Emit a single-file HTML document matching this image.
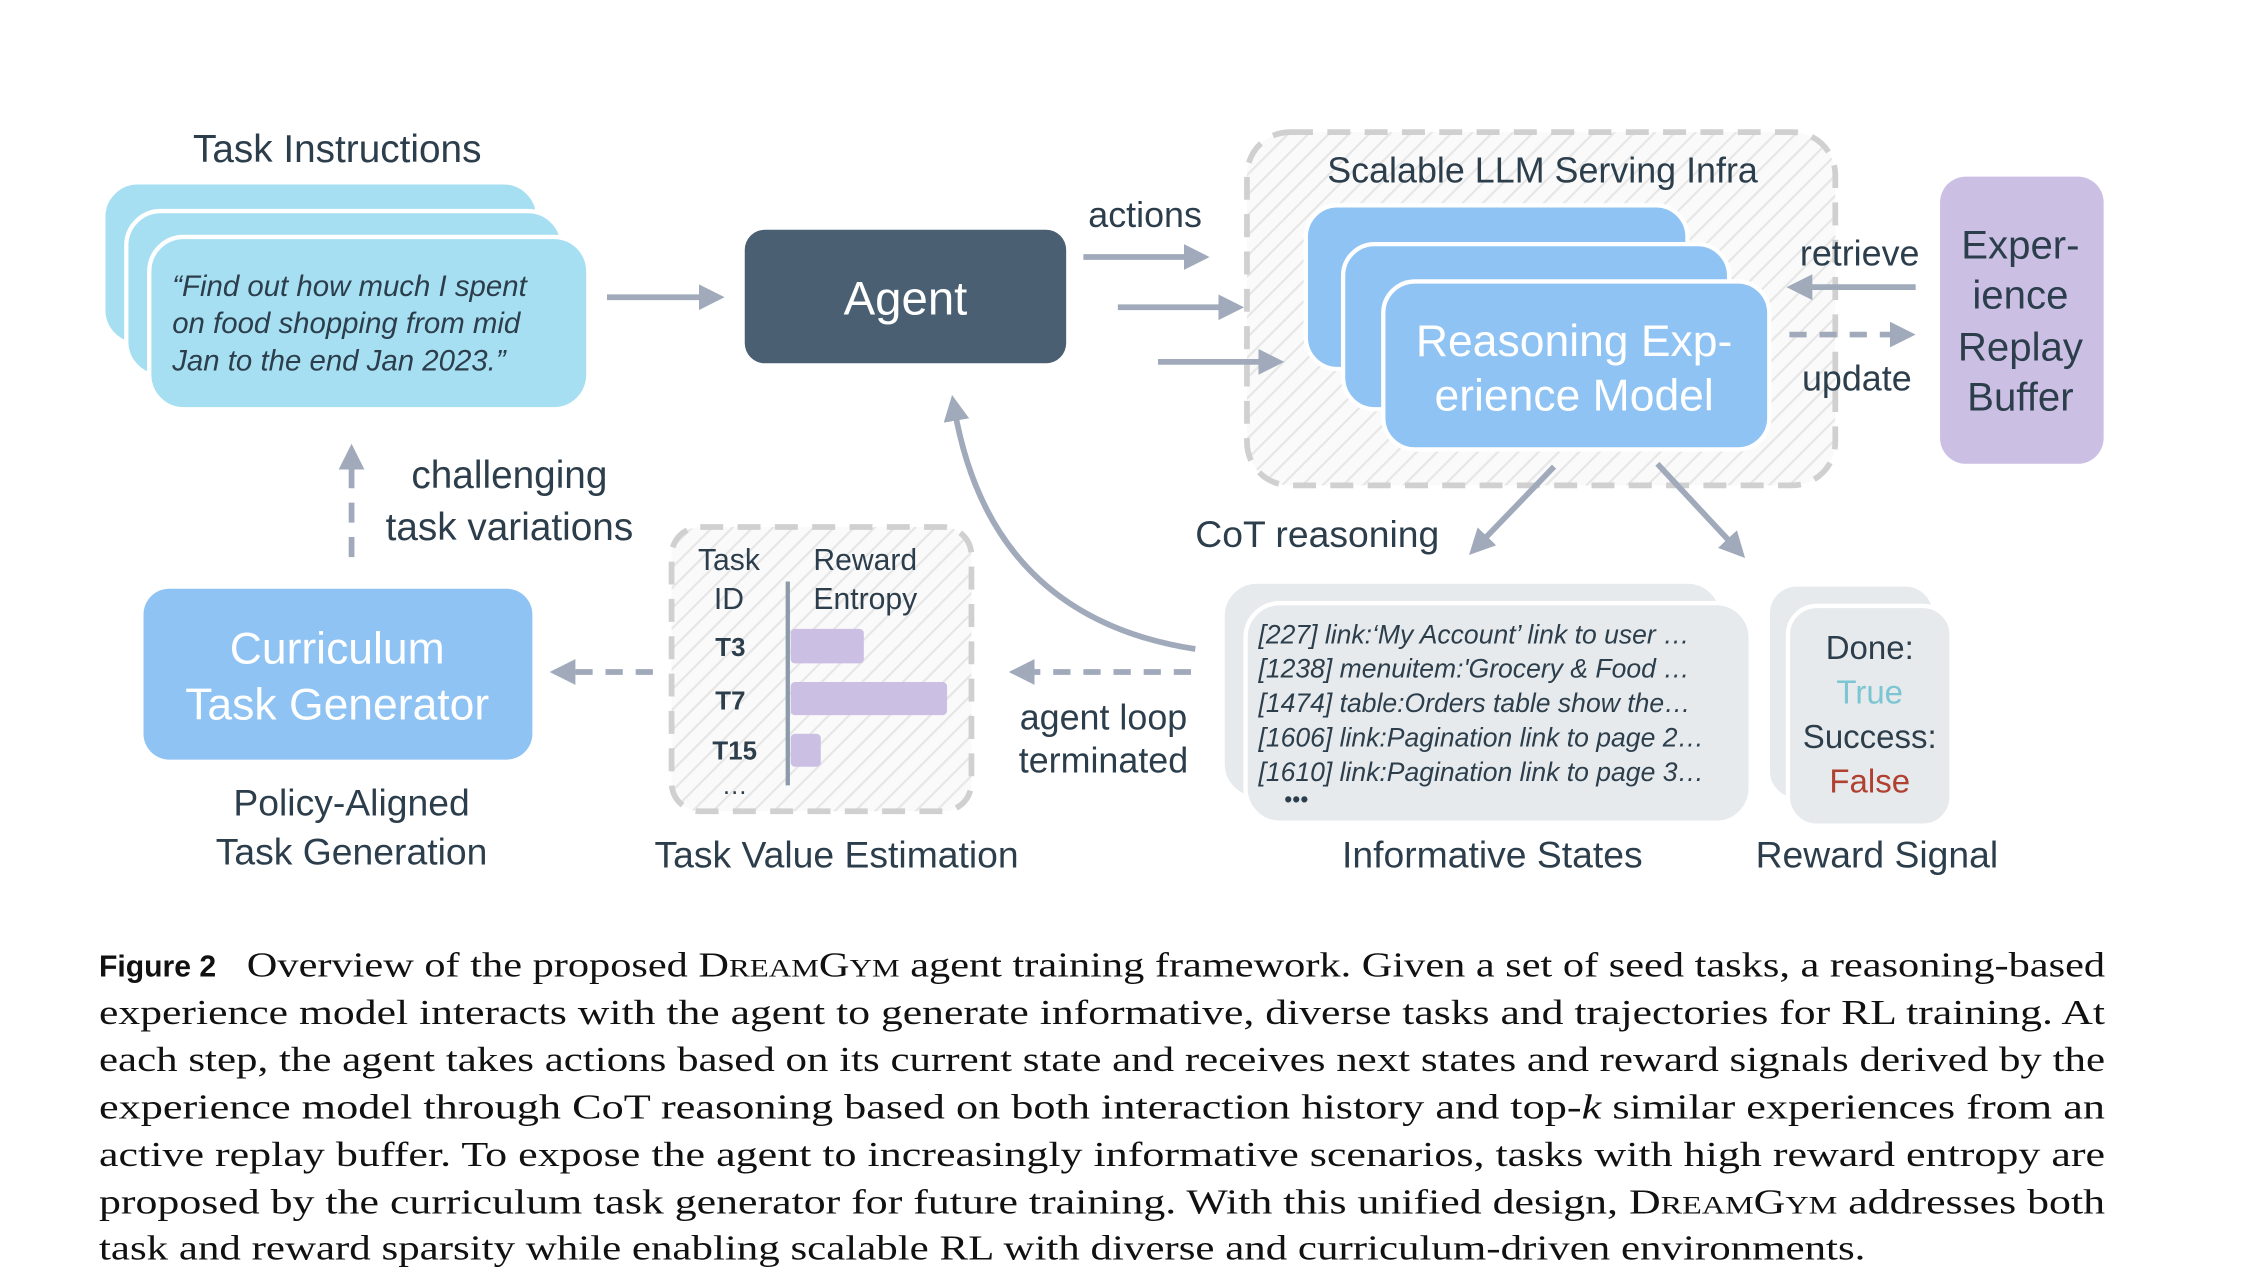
<!DOCTYPE html>
<html><head><meta charset="utf-8"><style>
html,body{margin:0;padding:0;background:#fff;}
svg{display:block;}
.t{font-family:"Liberation Sans",sans-serif;fill:#2c3e4c;}
.c{font-family:"Liberation Serif",serif;fill:#111;font-size:24.5px;}
</style></head><body>
<svg width="2250" height="1288" viewBox="0 0 1568 897" preserveAspectRatio="none" xmlns="http://www.w3.org/2000/svg">
<defs>
<pattern id="h" width="10" height="10" patternUnits="userSpaceOnUse" patternTransform="rotate(45)">
<rect width="10" height="10" fill="#fafafa"/><line x1="0" y1="0" x2="0" y2="10" stroke="#e6e6e6" stroke-width="3"/>
</pattern>
<marker id="a" viewBox="0 0 10 10" refX="5" refY="5" markerWidth="4.5" markerHeight="4.5" orient="auto" markerUnits="strokeWidth">
<path d="M0,0 L10,5 L0,10 z" fill="#a0aabb"/></marker>
</defs>

<text class="t" x="235" y="113" font-size="27" text-anchor="middle">Task Instructions</text>
<rect x="72" y="127" width="303" height="113" rx="24" fill="#a6dff2" stroke="#fff" stroke-width="3"/>
<rect x="88" y="147" width="304" height="115" rx="24" fill="#a6dff2" stroke="#fff" stroke-width="3"/>
<rect x="104" y="165" width="306" height="120" rx="24" fill="#a6dff2" stroke="#fff" stroke-width="3"/>
<g class="t" font-size="20.5" font-style="italic">
<text x="120" y="206">“Find out how much I spent</text>
<text x="120" y="232">on food shopping from mid</text>
<text x="120" y="258">Jan to the end Jan 2023.”</text>
</g>
<line x1="423" y1="207" x2="496" y2="207" stroke="#a0aabb" stroke-width="4" marker-end="url(#a)"/>

<rect x="519" y="160" width="224" height="93" rx="14" fill="#4a6072"/>
<text x="631" y="219" font-family="Liberation Sans,sans-serif" font-size="33" fill="#fff" text-anchor="middle">Agent</text>

<rect x="869" y="92" width="410" height="246" rx="30" fill="url(#h)" stroke="#d0d0d0" stroke-width="4" stroke-dasharray="16 10"/>
<text class="t" x="1075" y="127" font-size="25" text-anchor="middle">Scalable LLM Serving Infra</text>

<text class="t" x="798" y="158" font-size="25" text-anchor="middle">actions</text>
<line x1="755" y1="179" x2="834" y2="179" stroke="#a0aabb" stroke-width="4" marker-end="url(#a)"/>
<line x1="779" y1="214" x2="858" y2="214" stroke="#a0aabb" stroke-width="4" marker-end="url(#a)"/>
<line x1="807" y1="252" x2="886" y2="252" stroke="#a0aabb" stroke-width="4" marker-end="url(#a)"/>

<rect x="910" y="143" width="266" height="114" rx="22" fill="#8ec3f3" stroke="#fff" stroke-width="3"/>
<rect x="936" y="170" width="269" height="115" rx="22" fill="#8ec3f3" stroke="#fff" stroke-width="3"/>
<rect x="964" y="196" width="269" height="117" rx="22" fill="#8ec3f3" stroke="#fff" stroke-width="3"/>
<g font-family="Liberation Sans,sans-serif" font-size="31" fill="#fff" text-anchor="middle">
<text x="1097" y="248">Reasoning Exp-</text>
<text x="1097" y="286">erience Model</text>
</g>

<text class="t" x="1296" y="185" font-size="25" text-anchor="middle">retrieve</text>
<line x1="1335" y1="200" x2="1254" y2="200" stroke="#a0aabb" stroke-width="4" marker-end="url(#a)"/>
<line x1="1247" y1="233" x2="1326" y2="233" stroke="#a0aabb" stroke-width="4" stroke-dasharray="12 9" marker-end="url(#a)"/>
<text class="t" x="1294" y="272" font-size="25" text-anchor="middle">update</text>

<rect x="1352" y="123" width="114" height="200" rx="18" fill="#cbc0e4"/>
<g class="t" font-size="28" text-anchor="middle">
<text x="1408" y="180">Exper-</text>
<text x="1408" y="215">ience</text>
<text x="1408" y="251">Replay</text>
<text x="1408" y="286">Buffer</text>
</g>

<line x1="1083" y1="325" x2="1030" y2="380" stroke="#a0aabb" stroke-width="4" marker-end="url(#a)"/>
<line x1="1155" y1="323" x2="1210" y2="382" stroke="#a0aabb" stroke-width="4" marker-end="url(#a)"/>
<text class="t" x="918" y="381" font-size="26" text-anchor="middle">CoT reasoning</text>

<rect x="852" y="405" width="348" height="151" rx="24" fill="#e6eaec" stroke="#fff" stroke-width="3"/>
<rect x="868" y="420" width="352" height="153" rx="24" fill="#e6eaec" stroke="#fff" stroke-width="3"/>
<g class="t" font-size="18.5" font-style="italic">
<text x="877" y="448">[227] link:‘My Account’ link to user …</text>
<text x="877" y="472">[1238] menuitem:'Grocery &amp; Food …</text>
<text x="877" y="496">[1474] table:Orders table show the…</text>
<text x="877" y="520">[1606] link:Pagination link to page 2…</text>
<text x="877" y="544">[1610] link:Pagination link to page 3…</text>
<text x="895" y="562" font-style="normal" font-size="16">•••</text>
</g>

<rect x="1232" y="407" width="116" height="150" rx="20" fill="#e6eaec" stroke="#fff" stroke-width="3"/>
<rect x="1246" y="422" width="114" height="153" rx="20" fill="#e6eaec" stroke="#fff" stroke-width="3"/>
<g font-family="Liberation Sans,sans-serif" font-size="23" text-anchor="middle">
<text x="1303" y="459" fill="#2c3e4c">Done:</text>
<text x="1303" y="490" fill="#7cc5d3">True</text>
<text x="1303" y="521" fill="#2c3e4c">Success:</text>
<text x="1303" y="552" fill="#b04030">False</text>
</g>
<text class="t" x="1040" y="604" font-size="26" text-anchor="middle">Informative States</text>
<text class="t" x="1308" y="604" font-size="26" text-anchor="middle">Reward Signal</text>

<path d="M833,452 Q690,430 665,284" fill="none" stroke="#a0aabb" stroke-width="4" marker-end="url(#a)"/>
<line x1="830" y1="468" x2="712" y2="468" stroke="#a0aabb" stroke-width="4" stroke-dasharray="12 9" marker-end="url(#a)"/>
<text class="t" x="769" y="508" font-size="25" text-anchor="middle">agent loop</text>
<text class="t" x="769" y="538" font-size="25" text-anchor="middle">terminated</text>

<rect x="468" y="367" width="209" height="198" rx="20" fill="url(#h)" stroke="#d0d0d0" stroke-width="4" stroke-dasharray="16 10"/>
<g class="t" font-size="21" text-anchor="middle">
<text x="508" y="397">Task</text><text x="508" y="424">ID</text>
<text x="603" y="397">Reward</text><text x="603" y="424">Entropy</text>
</g>
<line x1="549" y1="405" x2="549" y2="547" stroke="#8c9aaa" stroke-width="3"/>
<rect x="551" y="438" width="51" height="24" rx="3" fill="#cbc0e4"/>
<rect x="551" y="475" width="109" height="23" rx="3" fill="#cbc0e4"/>
<rect x="551" y="511" width="21" height="23" rx="3" fill="#cbc0e4"/>
<g class="t" font-size="18" font-weight="bold" text-anchor="middle">
<text x="509" y="457">T3</text><text x="509" y="494">T7</text><text x="512" y="529">T15</text>
<text x="512" y="553" font-weight="normal">…</text>
</g>
<text class="t" x="583" y="604" font-size="26" text-anchor="middle">Task Value Estimation</text>

<line x1="455" y1="468" x2="392" y2="468" stroke="#a0aabb" stroke-width="4" stroke-dasharray="12 9" marker-end="url(#a)"/>

<rect x="100" y="410" width="271" height="119" rx="18" fill="#8ec3f3"/>
<g font-family="Liberation Sans,sans-serif" font-size="31" fill="#fff" text-anchor="middle">
<text x="235" y="462">Curriculum</text>
<text x="235" y="501">Task Generator</text>
</g>
<text class="t" x="245" y="568" font-size="26" text-anchor="middle">Policy-Aligned</text>
<text class="t" x="245" y="602" font-size="26" text-anchor="middle">Task Generation</text>

<line x1="245" y1="388" x2="245" y2="318" stroke="#a0aabb" stroke-width="4" stroke-dasharray="14 10" marker-end="url(#a)"/>
<text class="t" x="355" y="340" font-size="27" text-anchor="middle">challenging</text>
<text class="t" x="355" y="376" font-size="27" text-anchor="middle">task variations</text>

<text x="69" y="680" font-family="Liberation Sans,sans-serif" font-weight="bold" font-size="21" fill="#111">Figure 2</text>
<text class="c" x="172" y="680" textLength="1295" lengthAdjust="spacingAndGlyphs">Overview of the proposed D<tspan font-size="18">REAM</tspan>G<tspan font-size="18">YM</tspan> agent training framework. Given a set of seed tasks, a reasoning-based</text>
<text class="c" x="69" y="713" textLength="1398" lengthAdjust="spacingAndGlyphs">experience model interacts with the agent to generate informative, diverse tasks and trajectories for RL training. At</text>
<text class="c" x="69" y="746" textLength="1398" lengthAdjust="spacingAndGlyphs">each step, the agent takes actions based on its current state and receives next states and reward signals derived by the</text>
<text class="c" x="69" y="779" textLength="1398" lengthAdjust="spacingAndGlyphs">experience model through CoT reasoning based on both interaction history and top-<tspan font-style="italic">k</tspan> similar experiences from an</text>
<text class="c" x="69" y="812" textLength="1398" lengthAdjust="spacingAndGlyphs">active replay buffer. To expose the agent to increasingly informative scenarios, tasks with high reward entropy are</text>
<text class="c" x="69" y="845" textLength="1398" lengthAdjust="spacingAndGlyphs">proposed by the curriculum task generator for future training. With this unified design, D<tspan font-size="18">REAM</tspan>G<tspan font-size="18">YM</tspan> addresses both</text>
<text class="c" x="69" y="877" textLength="1231" lengthAdjust="spacingAndGlyphs">task and reward sparsity while enabling scalable RL with diverse and curriculum-driven environments.</text>
</svg>
</body></html>
